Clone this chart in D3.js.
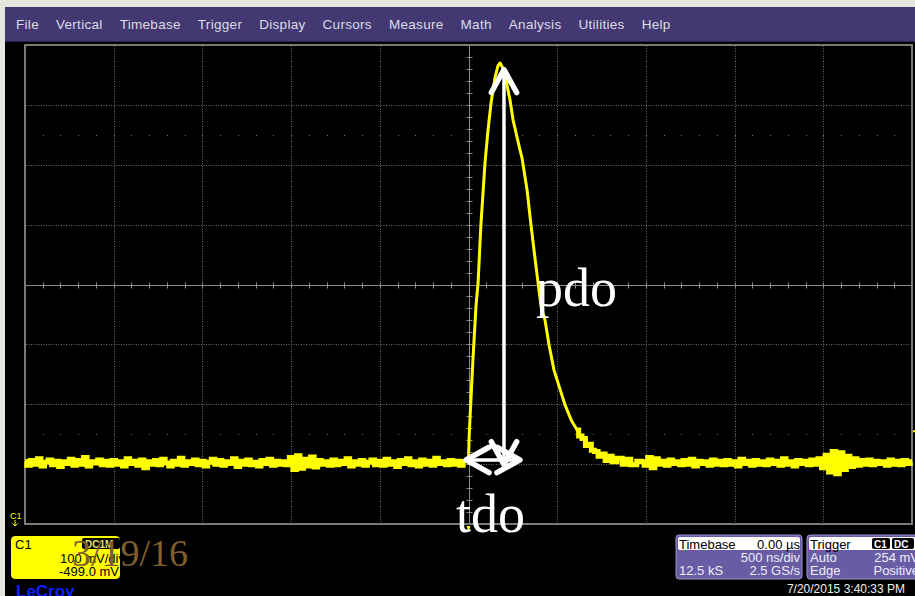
<!DOCTYPE html>
<html>
<head>
<meta charset="utf-8">
<script src="https://cdn.jsdelivr.net/npm/d3@7"></script>
<style>
body { margin: 0; background: #e6e6e0; }
svg { display: block; }
</style>
</head>
<body>
<svg id="scope"></svg>
<script>
var width = 915, height = 596

var menuItems = ["File", "Vertical", "Timebase", "Trigger", "Display", "Cursors", "Measure", "Math", "Analysis", "Utilities", "Help"]

// time in ns (500 ns/div, 10 div), level in mV (100 mV/div, offset -499 mV)
var timeTicks = [-2500, -2000, -1500, -1000, -500, 0, 500, 1000, 1500, 2000, 2500]
var levelTicks = [99, 199, 299, 399, 499, 599, 699, 799, 899]

// baseline noise before trigger, one sample every 20 ns from -2500 ns
var baseLeft = [
    203, 197, 205, 199, 208, 196, 202, 206, 198, 204, 195, 203, 200, 207, 197, 205, 199, 210, 196, 203, 201, 206, 198, 204, 197,
    205, 199, 203, 196, 208, 200, 204, 197, 206, 193, 203, 199, 205, 198, 207, 201, 196, 204, 199, 209, 197, 203, 200, 206, 198,
    204, 196, 202, 207, 199, 205, 197, 203, 200, 208, 195, 204, 199, 206, 198, 202, 196, 205, 200, 207, 197, 204, 199, 203, 198,
    210, 190, 213, 192, 207, 196, 211, 194, 205, 199, 203, 197, 206, 198, 204, 200, 208, 196, 203, 199, 205, 197, 202, 206, 198,
    204, 197, 207, 199, 203, 195, 205, 200, 208, 198, 203, 196, 206, 199, 204, 197, 209, 200, 203, 198, 205, 199, 204, 197, 203
]

// the pulse itself: [ns, mV]
var pulse = [
    [-10, 201], [0, 205], [3, 239], [8, 273], [25, 373], [42, 462], [54, 502], [70, 599], [93, 702], [110, 757],
    [127, 802], [149, 844], [166, 864], [178, 869], [194, 860], [211, 841], [234, 807], [251, 774], [290, 724], [302, 710],
    [330, 657], [352, 599], [369, 557], [392, 502], [409, 462], [431, 440], [454, 398], [482, 356], [544, 298], [580, 272],
    [612, 256], [630, 246], [650, 242], [668, 230], [685, 232], [700, 222], [720, 220], [741, 212], [760, 216], [780, 205],
    [800, 212], [820, 203], [854, 209], [880, 199], [900, 207], [930, 198], [967, 204]
]

// baseline noise after the pulse, one sample every 20 ns from 980 ns
var baseRight = [
    203, 197, 210, 193, 208, 199, 204, 197, 206, 200, 203, 198, 205, 199, 207, 196, 204, 200, 203, 197, 206, 199, 204, 198, 205,
    199, 203, 196, 207, 200, 204, 197, 205, 199, 203, 198, 206, 200, 204, 197, 208, 199, 203, 196, 205, 200, 204, 198, 206, 199,
    208, 193, 214, 186, 220, 183, 218, 190, 212, 195, 208, 197, 205, 199, 206, 198, 204, 200, 203, 197, 206, 199, 204, 198, 205, 200, 203
]

var triggerLevel = 254
var arrowTime = 200, arrowTop = 858, arrowBottom = 198
var spanStart = -14, spanEnd = 290, spanLevel = 206

var svg = d3.select("#scope")
    .attr("width", width)
    .attr("height", height)

svg.append("rect")
    .attr("width", width).attr("height", height)
    .attr("fill", "#e6e6e0")
svg.append("rect")
    .attr("x", 5).attr("y", 7)
    .attr("width", width - 5).attr("height", height - 7)
    .attr("fill", "#000")

// menu bar
svg.append("rect")
    .attr("x", 5).attr("y", 7)
    .attr("width", width - 5).attr("height", 34)
    .attr("fill", "#433872")
svg.append("line")
    .attr("x1", 5).attr("x2", width).attr("y1", 41.5).attr("y2", 41.5)
    .attr("stroke", "#2a2248")

var mx = 16
menuItems.forEach(function(m) {
    var t = svg.append("text")
        .attr("x", mx).attr("y", 29)
        .attr("fill", "#dcdce6")
        .style("font", "13.5px 'Liberation Sans', Arial, sans-serif")
        .style("letter-spacing", "0.3px")
        .text(m)
    mx += t.node().getComputedTextLength() + 17
})

var x = d3.scaleLinear().domain([-2500, 2500]).range([25, 912])
var y = d3.scaleLinear().domain([99, 899]).range([524, 45])

var grid = svg.append("g")

grid.selectAll(".vx")
    .data(timeTicks.slice(1, -1).filter(d => d != 0))
    .enter().append("line")
    .attr("x1", d => Math.round(x(d)) + 0.5).attr("x2", d => Math.round(x(d)) + 0.5)
    .attr("y1", 46).attr("y2", 523)
    .attr("stroke", "#6a6a6a")
    .attr("stroke-dasharray", "1,1.5")

grid.selectAll(".hy")
    .data(levelTicks.slice(1, -1).filter(d => d != 499))
    .enter().append("line")
    .attr("y1", d => Math.round(y(d)) + 0.5).attr("y2", d => Math.round(y(d)) + 0.5)
    .attr("x1", 26).attr("x2", 911)
    .attr("stroke", "#6a6a6a")
    .attr("stroke-dasharray", "1,1.5")

// dotted rows at 1.5 div from top and bottom
;[levelTicks[1] + 50, levelTicks[6] + 50].forEach(function(lv) {
    grid.selectAll(null)
        .data(d3.range(-2500, 2500, 100).slice(1))
        .enter().append("rect")
        .attr("x", d => Math.round(x(d)))
        .attr("y", Math.round(y(lv)))
        .attr("width", 1).attr("height", 1)
        .attr("fill", "#777")
})

// centre axes with minor ticks
var cx = Math.round(x(0)) + 0.5, cy = Math.round(y(499)) + 0.5
grid.append("line")
    .attr("x1", cx).attr("x2", cx).attr("y1", 46).attr("y2", 523)
    .attr("stroke", "#8a8a8a")
grid.append("line")
    .attr("x1", 26).attr("x2", 911).attr("y1", cy).attr("y2", cy)
    .attr("stroke", "#8a8a8a")
grid.selectAll(".tx")
    .data(d3.range(-2500, 2500, 100).slice(1))
    .enter().append("line")
    .attr("x1", d => Math.round(x(d)) + 0.5).attr("x2", d => Math.round(x(d)) + 0.5)
    .attr("y1", cy - 3).attr("y2", cy + 3)
    .attr("stroke", "#8a8a8a")
grid.selectAll(".ty")
    .data(d3.range(99, 899, 20).slice(1))
    .enter().append("line")
    .attr("y1", d => Math.round(y(d)) + 0.5).attr("y2", d => Math.round(y(d)) + 0.5)
    .attr("x1", cx - 3).attr("x2", cx + 3)
    .attr("stroke", "#8a8a8a")

grid.append("rect")
    .attr("x", 25).attr("y", 45)
    .attr("width", 887).attr("height", 479)
    .attr("fill", "none")
    .attr("stroke", "#7a7a7a")
    .attr("stroke-width", 2)

// trace: noisy parts drawn thick and stepped, the pulse as a plain line
var left = baseLeft.map((v, i) => [-2500 + i * 20, v])
var right = baseRight.map((v, i) => [980 + i * 20, v])
var tail = pulse.filter(p => p[0] >= 600)

svg.append("clipPath").attr("id", "screen")
    .append("rect").attr("x", 24).attr("y", 45).attr("width", 889).attr("height", 479)

var traceG = svg.append("g").attr("clip-path", "url(#screen)")

var noisy = d3.line().x(d => x(d[0])).y(d => y(d[1])).curve(d3.curveStep)

traceG.selectAll(".noise")
    .data([left, tail.concat(right)])
    .enter().append("path")
    .attr("d", noisy)
    .attr("fill", "none")
    .attr("stroke", "#ffff00")
    .attr("stroke-width", 5)

traceG.append("path")
    .datum(pulse)
    .attr("d", d3.line().x(d => x(d[0])).y(d => y(d[1])))
    .attr("fill", "none")
    .attr("stroke", "#ffff00")
    .attr("stroke-width", 3)
    .attr("stroke-linejoin", "round")

// trigger markers
svg.append("path")
    .attr("d", "M" + (x(2500) + 1) + "," + y(triggerLevel) + "h3")
    .attr("stroke", "#ffff00").attr("stroke-width", 2)
svg.append("path")
    .attr("d", "M" + (x(0) - 2) + "," + 526 + "l2,6l2,-6z")
    .attr("fill", "#ffff00")

// channel marker
svg.append("text")
    .attr("x", 10).attr("y", 519)
    .attr("fill", "#ffff00")
    .style("font", "9px 'Liberation Sans', Arial, sans-serif")
    .text("C1")
svg.append("path")
    .attr("d", "M15,520v6M12.5,523.5l2.5,2.5l2.5,-2.5")
    .attr("stroke", "#ffff00").attr("fill", "none")

// annotation arrows
var ann = svg.append("g")
    .attr("stroke", "#fff")
    .attr("fill", "none")
    .attr("stroke-linecap", "round")
    .attr("stroke-linejoin", "round")

function head(tx, ty, dx, dy) {
    // dx, dy: unit vector pointing back along the shaft
    var len = 23, spread = 0.55
    var px = -dy, py = dx
    ann.append("path")
        .attr("d", "M" + (tx + len * (dx + spread * px)) + "," + (ty + len * (dy + spread * py)) +
            "L" + tx + "," + ty +
            "L" + (tx + len * (dx - spread * px)) + "," + (ty + len * (dy - spread * py)))
        .attr("stroke-width", 5.5)
}

ann.append("line")
    .attr("x1", x(arrowTime)).attr("x2", x(arrowTime))
    .attr("y1", y(arrowTop) + 2).attr("y2", y(arrowBottom) - 2)
    .attr("stroke-width", 3.5)
head(x(arrowTime), y(arrowTop), 0, 1)
head(x(arrowTime), y(arrowBottom), 0, -1)

ann.append("line")
    .attr("x1", x(spanStart) + 2).attr("x2", x(spanEnd) - 2)
    .attr("y1", y(spanLevel)).attr("y2", y(spanLevel))
    .attr("stroke-width", 3.5)
head(x(spanStart), y(spanLevel), 1, 0)
head(x(spanEnd), y(spanLevel), -1, 0)

svg.append("text")
    .attr("x", 536).attr("y", 306)
    .attr("fill", "#fff")
    .style("font", "54px 'Liberation Serif', 'Times New Roman', serif")
    .text("pdo")
svg.append("text")
    .attr("x", 456).attr("y", 532)
    .attr("fill", "#fff")
    .style("font", "54px 'Liberation Serif', 'Times New Roman', serif")
    .text("tdo")

// channel box
var sans = "'Liberation Sans', Arial, sans-serif"
svg.append("clipPath").attr("id", "chbox")
    .append("rect").attr("x", 11).attr("y", 536).attr("width", 109).attr("height", 43).attr("rx", 4)
var ch = svg.append("g").attr("clip-path", "url(#chbox)")
ch.append("rect")
    .attr("x", 11).attr("y", 536).attr("width", 109).attr("height", 43).attr("rx", 4)
    .attr("fill", "#ffff00")
ch.append("text").attr("x", 15).attr("y", 549).text("C1")
    .style("font", "13px " + sans)
ch.append("rect")
    .attr("x", 82).attr("y", 538).attr("width", 38).attr("height", 11).attr("rx", 2)
    .attr("fill", "#000")
ch.append("text").attr("x", 85).attr("y", 547.5).text("DC1M")
    .attr("fill", "#e8e070")
    .style("font", "bold 10px " + sans)
ch.append("text").attr("x", 125).attr("y", 563).attr("text-anchor", "end").text("100 mV/div")
    .style("font", "13px " + sans)
ch.append("text").attr("x", 119).attr("y", 576).attr("text-anchor", "end").text("-499.0 mV")
    .style("font", "13px " + sans)

svg.append("text")
    .attr("x", 16).attr("y", 597)
    .attr("fill", "#1020ff")
    .style("font", "bold 17px " + sans)
    .text("LeCroy")

svg.append("text")
    .attr("x", 72).attr("y", 566)
    .attr("fill", "#7d5e2c")
    .style("font", "38px 'Liberation Serif', 'Times New Roman', serif")
    .text("3/19/16")

// timebase and trigger boxes
function infoBox(bx, bw, title, rows) {
    var g = svg.append("g")
    g.append("rect")
        .attr("x", bx).attr("y", 535).attr("width", bw).attr("height", 44).attr("rx", 3)
        .attr("fill", "#685ca4").attr("stroke", "#9c92cc")
    g.append("rect")
        .attr("x", bx + 2).attr("y", 537).attr("width", bw - 4).attr("height", 13).attr("rx", 2)
        .attr("fill", "#fff")
    g.append("text").attr("x", bx + 3).attr("y", 548.5).text(title[0])
        .style("font", "13px " + sans)
    if (title[1]) g.append("text").attr("x", bx + bw - 2).attr("y", 548.5)
        .attr("text-anchor", "end").text(title[1])
        .style("font", "13px " + sans)
    rows.forEach(function(r, i) {
        g.append("text").attr("x", bx + 3).attr("y", 562 + i * 13).text(r[0])
            .attr("fill", "#eeeef8").style("font", "13px " + sans)
        g.append("text").attr("x", bx + bw - 2).attr("y", 562 + i * 13).text(r[1])
            .attr("text-anchor", "end")
            .attr("fill", "#eeeef8").style("font", "13px " + sans)
    })
    return g
}

infoBox(676, 126, ["Timebase", "0.00 \u00b5s"], [["", "500 ns/div"], ["12.5 kS", "2.5 GS/s"]])
var trig = infoBox(807, 114, ["Trigger", ""], [["Auto", "254 mV"], ["Edge", "Positive"]])
trig.append("rect").attr("x", 872).attr("y", 538).attr("width", 18).attr("height", 11).attr("rx", 2).attr("fill", "#000")
trig.append("rect").attr("x", 892).attr("y", 538).attr("width", 22).attr("height", 11).attr("rx", 2).attr("fill", "#000")
trig.append("text").attr("x", 874).attr("y", 547.5).text("C1")
    .attr("fill", "#fff").style("font", "bold 10px " + sans)
trig.append("text").attr("x", 894).attr("y", 547.5).text("DC")
    .attr("fill", "#fff").style("font", "bold 10px " + sans)

svg.append("text")
    .attr("x", 905).attr("y", 593)
    .attr("text-anchor", "end")
    .attr("fill", "#f0f0f0")
    .style("font", "12px " + sans)
    .text("7/20/2015 3:40:33 PM")
</script>
</body>
</html>
